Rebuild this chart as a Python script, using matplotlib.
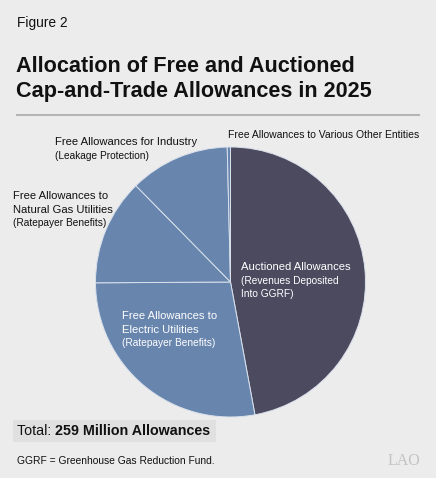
import matplotlib
matplotlib.use("Agg")
import matplotlib.pyplot as plt

# allowances in 2025, millions
slices = ["Auctioned", "Electric Utilities", "Natural Gas Utilities", "Industry", "Various Other Entities"]
allowances = [122, 72, 33, 31, 1]
colors = ["#4b4a5f", "#6885ae", "#6885ae", "#6885ae", "#6885ae"]

W, H = 436, 478
plt.rcParams["font.family"] = ["Liberation Sans", "DejaVu Sans"]

fig = plt.figure(figsize=(W / 100, H / 100), dpi=100)
fig.patch.set_facecolor("#ececec")

def fx(x):
    return x / W

def fy(y):
    return 1 - y / H

# pie axes: centre (230.5, 282), radius 135 px
cx, cy, r = 230.5, 282, 135
ax = fig.add_axes([fx(cx - r), fy(cy + r), 2 * r / W, 2 * r / H])
ax.pie(allowances, colors=colors, startangle=90, counterclock=False,
       wedgeprops=dict(edgecolor="#d9e1ec", linewidth=0.7))
ax.set_xlim(-1, 1)
ax.set_ylim(-1, 1)
ax.set_facecolor("none")

# header
fig.text(fx(17), fy(23), "Figure 2", fontsize=9.9, va="center", color="#111111")
fig.text(fx(16), fy(66), "Allocation of Free and Auctioned", fontsize=15.6,
         fontweight="bold", va="center", color="#111111")
fig.text(fx(16), fy(92), "Cap-and-Trade Allowances in 2025", fontsize=15.6,
         fontweight="bold", va="center", color="#111111")
fig.add_artist(plt.Line2D([fx(17), fx(419)], [fy(115), fy(115)],
                          color="#b5b5b5", linewidth=1.5))

main_fs = 8.1
sub_fs = 7.3

def label(x, y, lines, color="#111111", step=13.7):
    # main lines in main size, lines in parentheses smaller
    for i, (txt, kind) in enumerate(lines):
        fs = sub_fs if kind == "sub" else main_fs
        fig.text(fx(x), fy(y + i * step), txt, fontsize=fs, va="center", color=color)

label(55, 142, [("Free Allowances for Industry", "main"), ("(Leakage Protection)", "sub")])
label(13, 196, [("Free Allowances to", "main"), ("Natural Gas Utilities", "main"),
                ("(Ratepayer Benefits)", "sub")])
fig.text(fx(228), fy(135), "Free Allowances to Various Other Entities", fontsize=7.5,
         va="center", color="#111111")
label(241, 267, [("Auctioned Allowances", "main"), ("(Revenues Deposited", "sub"),
                 ("Into GGRF)", "sub")], color="white")
label(122, 316, [("Free Allowances to", "main"), ("Electric Utilities", "main"),
                 ("(Ratepayer Benefits)", "sub")], color="white")

# total box
fig.add_artist(plt.Rectangle((fx(13), fy(442)), fx(216) - fx(13), fy(420) - fy(442),
                             facecolor="#e0e0e0", edgecolor="none"))
t = fig.text(fx(17), fy(431), "Total: ", fontsize=10.3, va="center", color="#111111")
fig.canvas.draw()
bb = t.get_window_extent()
fig.text(bb.x1 / W, fy(431), "259 Million Allowances", fontsize=10.3, fontweight="bold",
         va="center", color="#111111")

fig.text(fx(17), fy(461), "GGRF = Greenhouse Gas Reduction Fund.", fontsize=7.4,
         va="center", color="#111111")
fig.text(fx(420), fy(461), "LAO", fontsize=11.5, family="Liberation Serif",
         ha="right", va="center", color="#c4c4c4")

fig.savefig("out.png", dpi=100, facecolor=fig.get_facecolor())
